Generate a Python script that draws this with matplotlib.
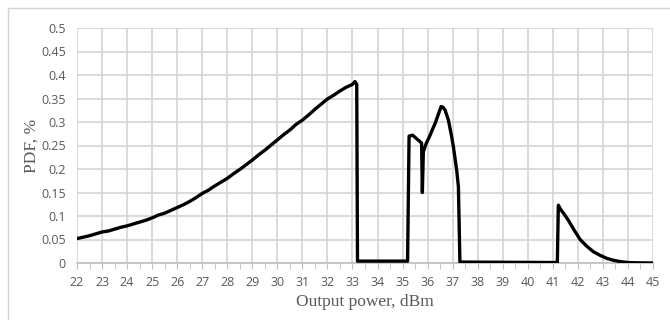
import numpy as np
import matplotlib
matplotlib.use('Agg')
import matplotlib.pyplot as plt
from matplotlib.patches import Rectangle

# output power (dBm) and PDF (%)
power = [22.0, 22.25, 22.5, 22.75, 23.0, 23.25, 23.5, 23.75, 24.0, 24.25,
         24.5, 24.75, 25.0, 25.25, 25.5, 25.75, 26.0, 26.25, 26.5, 26.75,
         27.0, 27.25, 27.5, 27.75, 28.0, 28.25, 28.5, 28.75, 29.0, 29.25,
         29.5, 29.75, 30.0, 30.25, 30.5, 30.75, 31.0, 31.25, 31.5, 31.75,
         32.0, 32.25, 32.5, 32.75, 33.0, 33.1, 33.17, 33.2,
         35.2, 35.26, 35.4, 35.55, 35.7, 35.76, 35.79, 35.83, 35.95, 36.1,
         36.2, 36.3, 36.42, 36.54, 36.62, 36.7, 36.83, 36.95, 37.03, 37.16,
         37.23, 37.29,
         41.18, 41.22, 41.3, 41.45, 41.62, 41.85, 42.09, 42.35, 42.62, 42.9,
         43.15, 43.4, 43.69, 44.0, 44.3, 45.0]
pdf = [0.052, 0.055, 0.058, 0.062, 0.066, 0.068, 0.072, 0.076, 0.079, 0.083,
       0.087, 0.091, 0.096, 0.102, 0.106, 0.112, 0.118, 0.124, 0.131, 0.139,
       0.148, 0.155, 0.164, 0.172, 0.180, 0.190, 0.199, 0.209, 0.219, 0.230,
       0.240, 0.251, 0.262, 0.273, 0.283, 0.295, 0.304, 0.315, 0.327, 0.338,
       0.349, 0.357, 0.366, 0.374, 0.380, 0.386, 0.380, 0.004,
       0.004, 0.270, 0.272, 0.265, 0.258, 0.255, 0.150, 0.237, 0.255, 0.272,
       0.285, 0.297, 0.315, 0.333, 0.331, 0.325, 0.304, 0.272, 0.247, 0.198,
       0.162, 0.002,
       0.001, 0.123, 0.115, 0.104, 0.091, 0.070, 0.050, 0.036, 0.024, 0.016,
       0.010, 0.006, 0.003, 0.001, 0.0005, 0.0]

x_ticks = list(range(22, 46))
y_ticks = [0, 0.05, 0.1, 0.15, 0.2, 0.25, 0.3, 0.35, 0.4, 0.45, 0.5]
y_tick_labels = ['0', '0.05', '0.1', '0.15', '0.2', '0.25', '0.3', '0.35', '0.4', '0.45', '0.5']

grey_text = '#595959'
grid_col = '#d4d4d4'

fig = plt.figure(figsize=(6.7, 3.2), dpi=100)
ax = fig.add_axes([77 / 670, 57 / 320, 576 / 670, 235 / 320])

# chart frame like Excel's chart area border
fig.patches.append(Rectangle((8 / 670, -0.1), 1.2, (320 - 8) / 320 + 0.1,
                             transform=fig.transFigure, fill=False,
                             edgecolor=grid_col, linewidth=1))

ax.plot(power, pdf, color='black', linewidth=2.4, solid_joinstyle='round', zorder=3)

ax.set_xlim(22, 45)
ax.set_ylim(0, 0.5)
ax.set_xticks(x_ticks)
ax.set_xticks(np.arange(22, 45.01, 0.5), minor=True)
ax.set_yticks(y_ticks)
ax.set_yticklabels(y_tick_labels)

for xv in x_ticks:
    ax.axvline(xv, color=grid_col, linewidth=1.2, zorder=0)
for yv in y_ticks:
    ax.axhline(yv, color=grid_col, linewidth=1.2, zorder=0)

for s in ['top', 'right', 'left']:
    ax.spines[s].set_visible(False)
ax.spines['bottom'].set_color('#bfbfbf')
ax.spines['bottom'].set_linewidth(1.2)

ax.tick_params(axis='x', which='both', length=4, color='#bfbfbf',
               labelsize=9, labelcolor=grey_text, pad=5)
ax.tick_params(axis='y', length=0, labelsize=9, labelcolor=grey_text, pad=8)
for lab in ax.get_xticklabels() + ax.get_yticklabels():
    lab.set_fontfamily('Open Sans')

ax.set_xlabel('Output power, dBm', fontfamily='Liberation Serif', fontsize=12.5,
              color=grey_text, labelpad=4)
ax.set_ylabel('PDF, %', fontfamily='Liberation Serif', fontsize=12.5,
              color=grey_text, labelpad=1)

fig.savefig('out.png', dpi=100)
